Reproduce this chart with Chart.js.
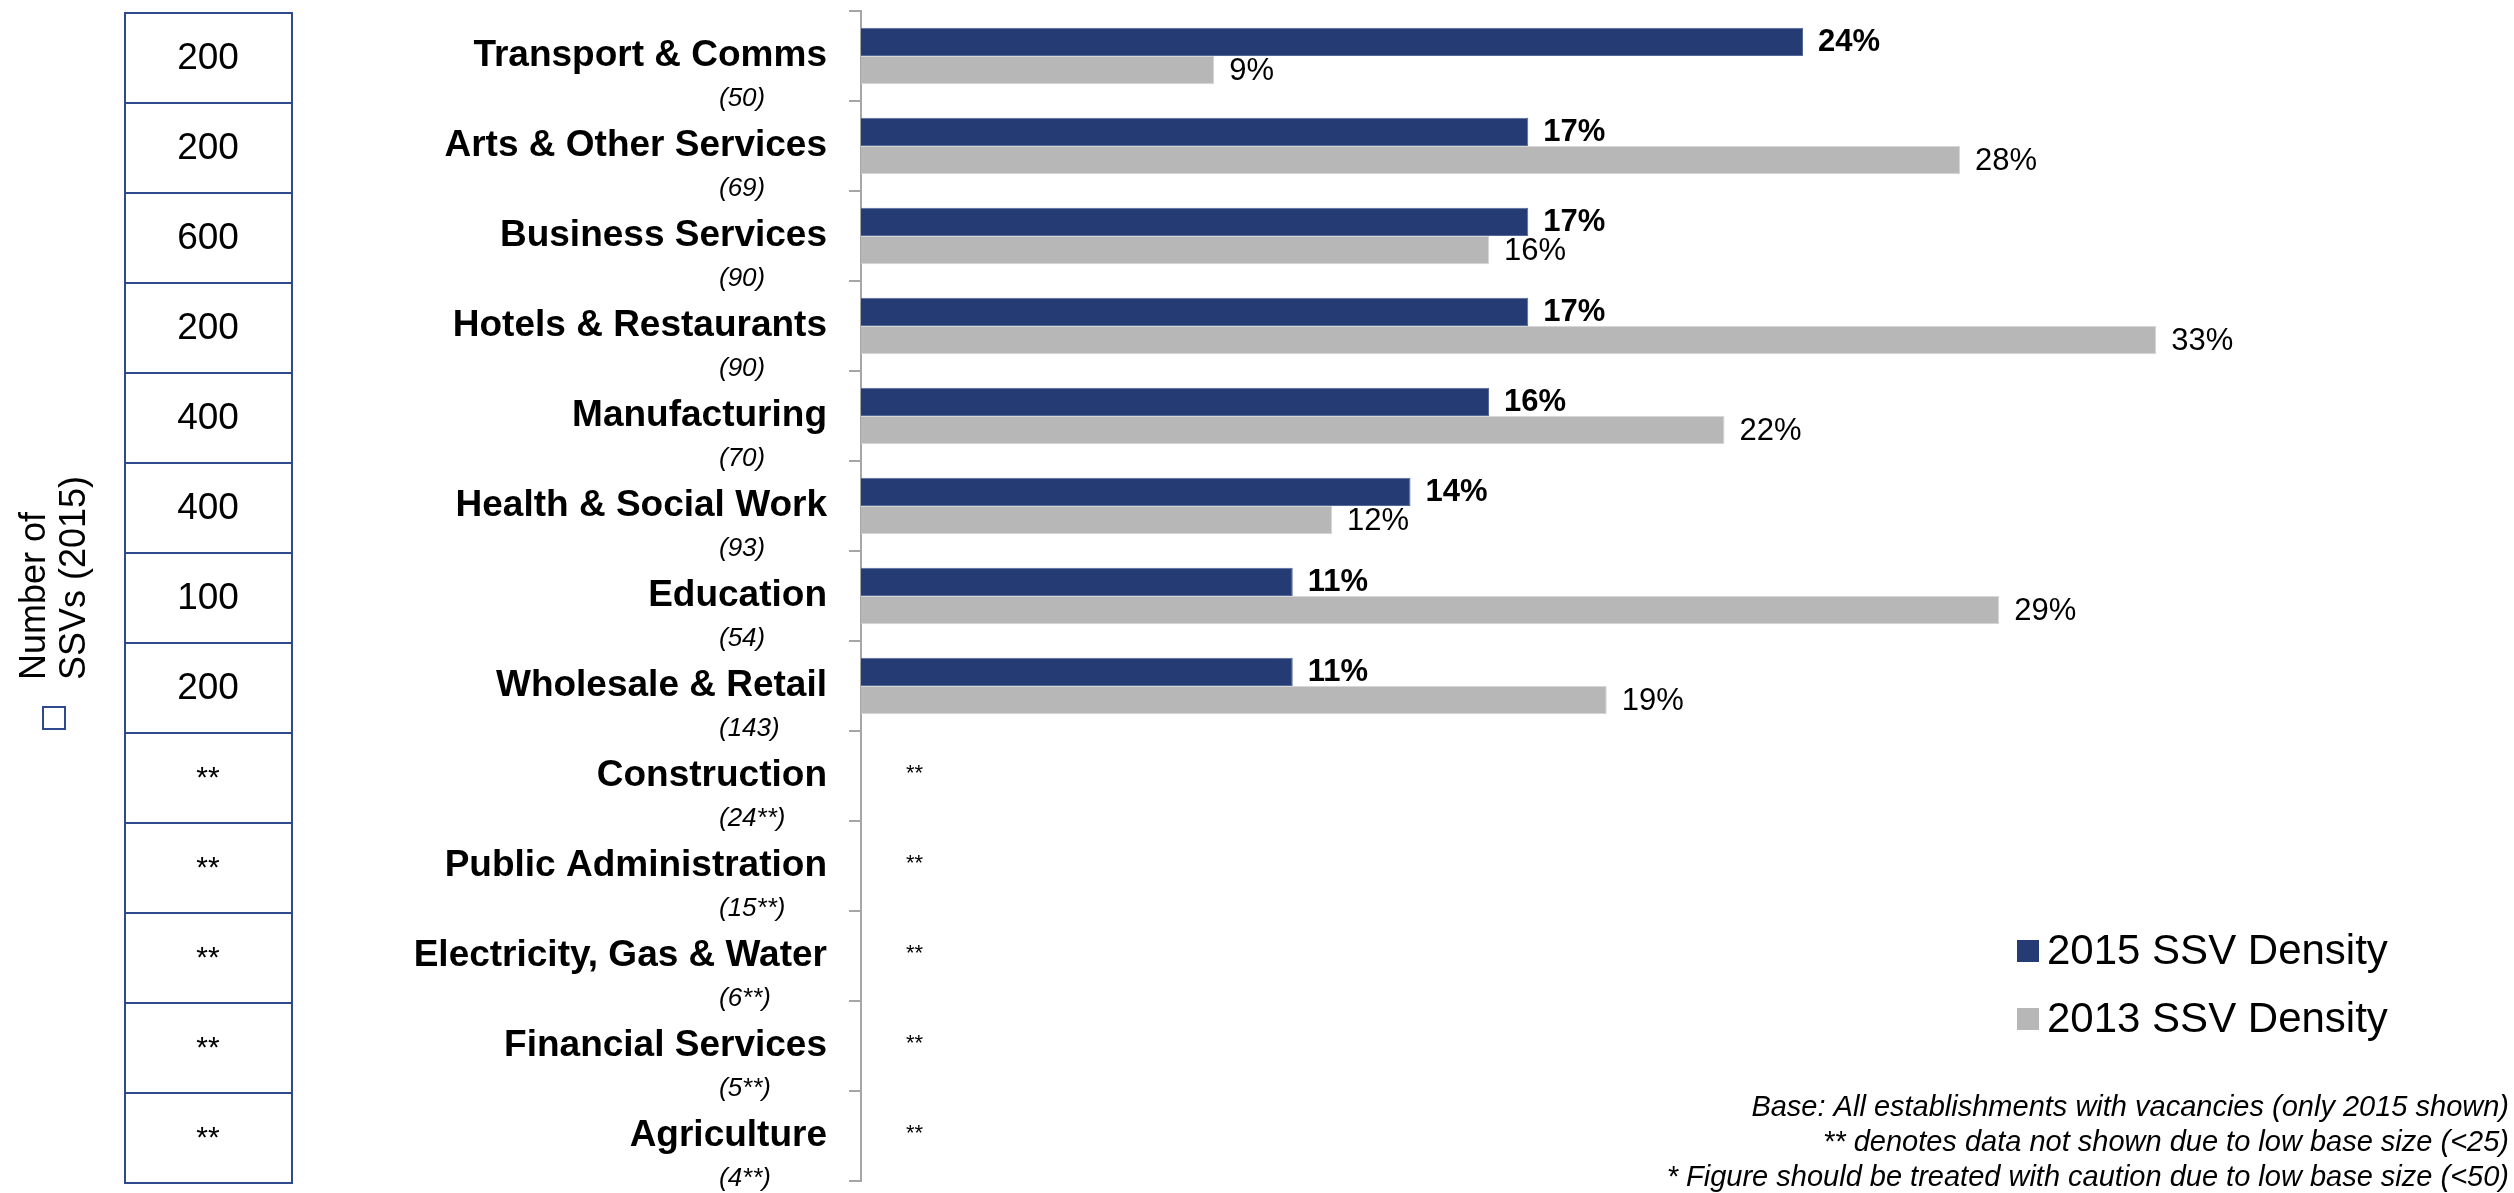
<!DOCTYPE html>
<html>
<head>
<meta charset="utf-8">
<script src="https://cdn.jsdelivr.net/npm/chart.js@4.4.1/dist/chart.umd.min.js"></script>
<style>
  html, body { margin: 0; padding: 0; background: #fff; }
  #chart { display: block; }
</style>
</head>
<body>
<canvas id="chart" width="2514" height="1193"></canvas>
<script>
const sectors = [
  'Transport & Comms', 'Arts & Other Services', 'Business Services', 'Hotels & Restaurants',
  'Manufacturing', 'Health & Social Work', 'Education', 'Wholesale & Retail',
  'Construction', 'Public Administration', 'Electricity, Gas & Water', 'Financial Services', 'Agriculture'
];
const baseSizes = ['(50)', '(69)', '(90)', '(90)', '(70)', '(93)', '(54)', '(143)', '(24**)', '(15**)', '(6**)', '(5**)', '(4**)'];
const ssvCounts = ['200', '200', '600', '200', '400', '400', '100', '200', '**', '**', '**', '**', '**'];
const density2015 = [24, 17, 17, 17, 16, 14, 11, 11, null, null, null, null, null];
const density2013 = [9, 28, 16, 33, 22, 12, 29, 19, null, null, null, null, null];
const seriesNames = ['2015 SSV Density', '2013 SSV Density'];
const footnotes = [
  'Base: All establishments with vacancies (only 2015 shown)',
  '** denotes data not shown due to low base size (<25)',
  '* Figure should be treated with caution due to low base size (<50)'
];

const NAVY = '#253B73';
const GREY = '#B7B7B7';
const TABLE_LINE = '#2F4A8C';
const AXIS = '#A6A6A6';
const FONT = "'Liberation Sans', Arial, sans-serif";

// everything drawn around the bars: value labels, sector names, the SSV table, legend and notes
const decorations = {
  id: 'decorations',
  afterDraw(chart) {
    const ctx = chart.ctx;
    const y = chart.scales.y;
    const area = chart.chartArea;
    const band = (area.bottom - area.top) / sectors.length;

    ctx.save();
    ctx.fillStyle = '#000';

    // value labels at the end of each bar
    chart.data.datasets.forEach((ds, di) => {
      const meta = chart.getDatasetMeta(di);
      meta.data.forEach((bar, i) => {
        if (ds.data[i] == null) return;
        ctx.font = (di === 0 ? 'bold ' : '') + '31px ' + FONT;
        ctx.textAlign = 'left';
        ctx.textBaseline = 'middle';
        ctx.fillText(ds.data[i] + '%', bar.x + 15, bar.y + 1);
      });
    });

    sectors.forEach((name, i) => {
      const cy = y.getPixelForValue(i);

      // suppressed values
      if (density2015[i] == null) {
        ctx.font = '22px ' + FONT;
        ctx.textAlign = 'left';
        ctx.textBaseline = 'middle';
        ctx.fillText('**', area.left + 45, cy - 2);
      }

      // sector name and base size
      ctx.font = 'bold 37px ' + FONT;
      ctx.textAlign = 'right';
      ctx.textBaseline = 'middle';
      ctx.fillText(name, 827, cy);
      ctx.font = 'italic 26px ' + FONT;
      ctx.textAlign = 'left';
      ctx.fillText(baseSizes[i], 719, cy + 43);

      // SSV count table
      const top = cy - band / 2 + 2;
      ctx.strokeStyle = TABLE_LINE;
      ctx.lineWidth = 2;
      ctx.strokeRect(125, top, 167, band);
      ctx.font = (ssvCounts[i] === '**' ? '30px ' : '37px ') + FONT;
      ctx.textAlign = 'center';
      ctx.fillText(ssvCounts[i], 208, cy + 3);
    });

    // rotated table heading with its marker box
    ctx.save();
    ctx.font = '36px ' + FONT;
    ctx.textAlign = 'left';
    ctx.textBaseline = 'alphabetic';
    ctx.translate(45, 680);
    ctx.rotate(-Math.PI / 2);
    ctx.fillText('Number of', 0, 0);
    ctx.fillText('SSVs (2015)', 0, 40);
    ctx.restore();
    ctx.strokeStyle = TABLE_LINE;
    ctx.lineWidth = 2;
    ctx.strokeRect(43, 707, 22, 22);

    // legend
    const colours = [NAVY, GREY];
    seriesNames.forEach((label, i) => {
      const ly = 951 + i * 68;
      ctx.fillStyle = colours[i];
      ctx.fillRect(2017, ly - 11, 22, 22);
      ctx.fillStyle = '#000';
      ctx.font = '42px ' + FONT;
      ctx.textAlign = 'left';
      ctx.textBaseline = 'middle';
      ctx.fillText(label, 2047, ly + 1);
    });

    // notes
    ctx.font = 'italic 29px ' + FONT;
    ctx.textAlign = 'right';
    ctx.textBaseline = 'middle';
    footnotes.forEach((line, i) => {
      ctx.fillText(line, 2509, 1108 + i * 35);
    });

    ctx.restore();
  }
};

new Chart(document.getElementById('chart'), {
  type: 'bar',
  data: {
    labels: sectors,
    datasets: [
      {
        label: seriesNames[0],
        data: density2015,
        backgroundColor: NAVY,
        borderColor: '#55689A',
        borderWidth: 1
      },
      {
        label: seriesNames[1],
        data: density2013,
        backgroundColor: GREY,
        borderColor: '#D6D6D6',
        borderWidth: 1
      }
    ]
  },
  options: {
    indexAxis: 'y',
    responsive: false,
    animation: false,
    events: [],
    categoryPercentage: 0.63,
    barPercentage: 1,
    layout: { padding: { left: 849, right: 83, top: 11, bottom: 12 } },
    plugins: {
      legend: { display: false },
      tooltip: { enabled: false }
    },
    scales: {
      x: { display: false, min: 0, max: 40 },
      y: {
        ticks: { display: false },
        grid: {
          drawOnChartArea: false,
          drawTicks: true,
          tickLength: 12,
          color: AXIS,
          lineWidth: 2
        },
        border: { display: true, color: AXIS, width: 2 }
      }
    }
  },
  plugins: [decorations]
});
</script>
</body>
</html>
